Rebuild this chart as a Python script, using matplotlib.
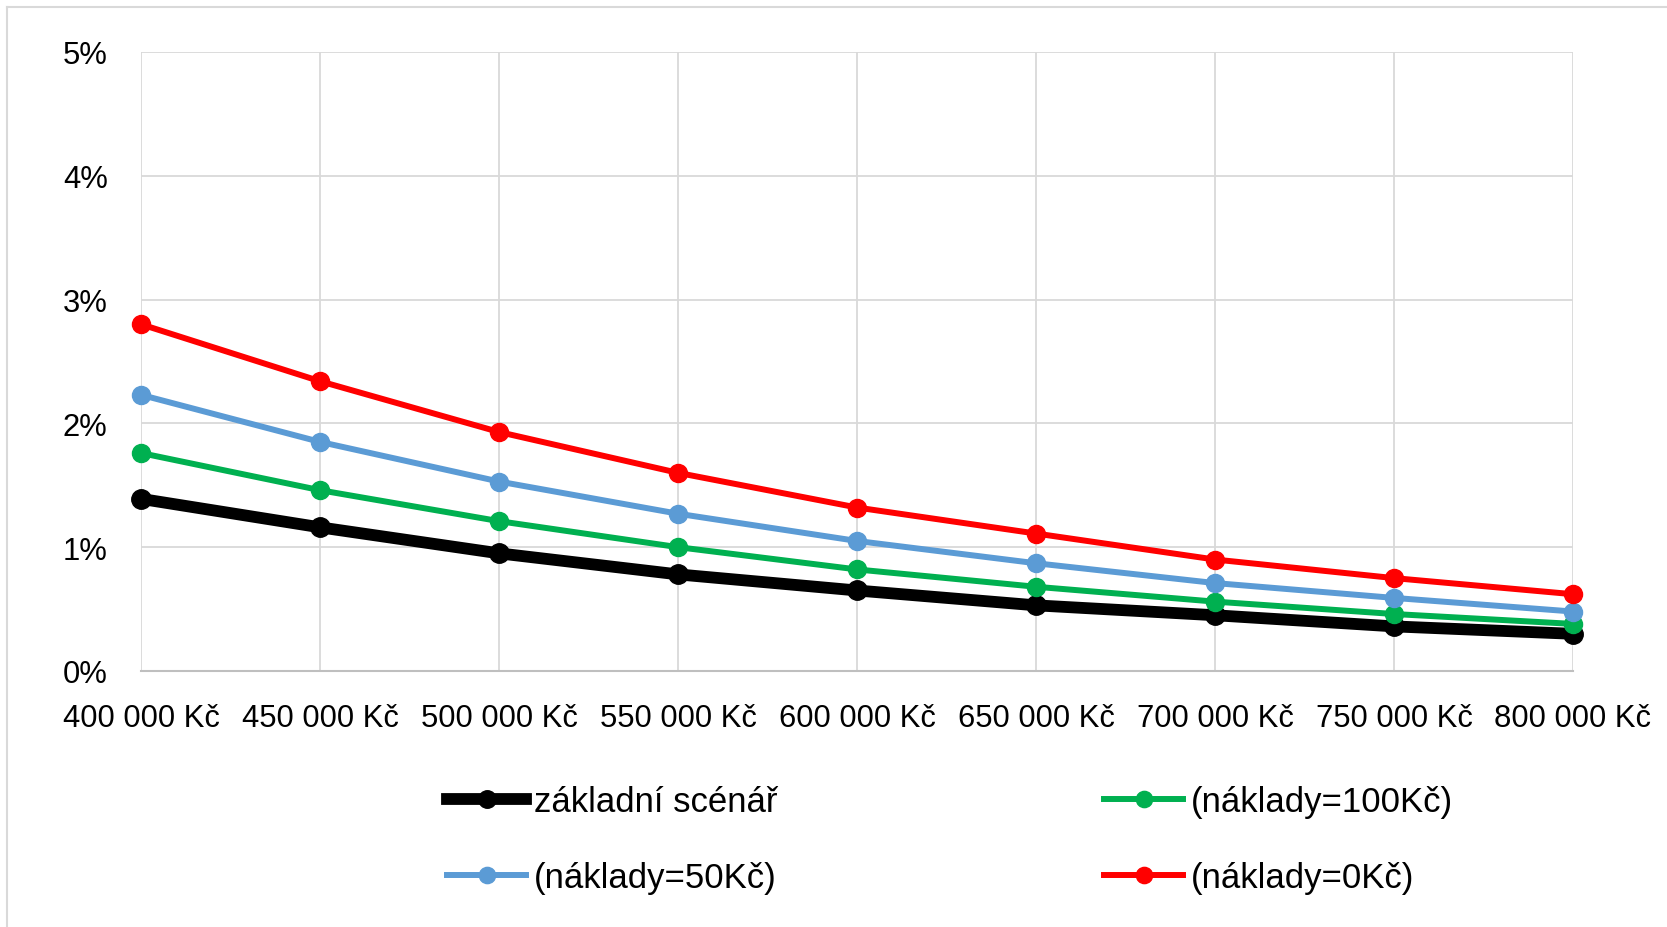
import matplotlib
matplotlib.use("Agg")
import matplotlib.pyplot as plt
from matplotlib.lines import Line2D

plt.rcParams['font.family'] = ['Liberation Sans', 'DejaVu Sans']

prices = [400000, 450000, 500000, 550000, 600000, 650000, 700000, 750000, 800000]
x_labels = ["400 000 Kč", "450 000 Kč", "500 000 Kč", "550 000 Kč", "600 000 Kč",
            "650 000 Kč", "700 000 Kč", "750 000 Kč", "800 000 Kč"]
zakladni = [1.39, 1.16, 0.95, 0.78, 0.65, 0.53, 0.45, 0.36, 0.30]
naklady100 = [1.76, 1.46, 1.21, 1.00, 0.82, 0.68, 0.56, 0.46, 0.38]
naklady50 = [2.23, 1.85, 1.53, 1.27, 1.05, 0.87, 0.71, 0.59, 0.48]
naklady0 = [2.80, 2.34, 1.93, 1.60, 1.32, 1.11, 0.90, 0.75, 0.62]
y_ticks = [0, 1, 2, 3, 4, 5]
y_labels = ["0%", "1%", "2%", "3%", "4%", "5%"]

fig = plt.figure(figsize=(16.67, 9.28), dpi=100)
ax = fig.add_axes([0.0846, 0.2759, 0.8590, 0.6671])

series = [
    ("základní scénář", zakladni, "#000000", 8.5, 14),
    ("(náklady=100Kč)", naklady100, "#00b050", 4.3, 13),
    ("(náklady=50Kč)", naklady50, "#5b9bd5", 4.3, 13),
    ("(náklady=0Kč)", naklady0, "#ff0000", 4.3, 13),
]
handles = {}
for z, (name, vals, col, lw, ms) in enumerate(series):
    ax.plot(prices, vals, color=col, lw=lw, marker='o', ms=ms,
            solid_joinstyle='round', solid_capstyle='round',
            clip_on=False, zorder=5 + z)
    handles[name] = Line2D([], [], color=col, lw=lw, marker='o', ms=ms * 0.9)

ax.set_xlim(400000, 800000)
ax.set_ylim(0, 5)
ax.set_xticks(prices)
ax.set_xticklabels(x_labels)
ax.set_yticks(y_ticks)
ax.set_yticklabels(y_labels)
ax.tick_params(axis='x', length=0, pad=23, labelsize=22.3)
ax.tick_params(axis='y', length=0, pad=24, labelsize=22.3)
ax.grid(True, color="#d9d9d9", lw=1.3)
ax.set_axisbelow(True)
for s in ['top', 'right', 'left']:
    ax.spines[s].set_visible(False)
ax.spines['bottom'].set_color("#bfbfbf")
ax.spines['bottom'].set_linewidth(1.5)

order = ["základní scénář", "(náklady=50Kč)", "(náklady=100Kč)", "(náklady=0Kč)"]
leg = fig.legend([handles[k] for k in order], order, ncol=2, frameon=False,
                 loc='upper left', bbox_to_anchor=(447 / 1667, 1 - 786 / 928),
                 fontsize=25, handlelength=2.28, handletextpad=0.23,
                 columnspacing=9.4, labelspacing=1.23, borderpad=0, borderaxespad=0)

# outer chart border (top and left visible)
fig.add_artist(Line2D([7 / 1667, 1.0], [1 - 8 / 928, 1 - 8 / 928], color="#d9d9d9", lw=1.5,
                      transform=fig.transFigure))
fig.add_artist(Line2D([7 / 1667, 7 / 1667], [0, 1 - 8 / 928], color="#d9d9d9", lw=1.5,
                      transform=fig.transFigure))

fig.savefig("out.png", dpi=100)
